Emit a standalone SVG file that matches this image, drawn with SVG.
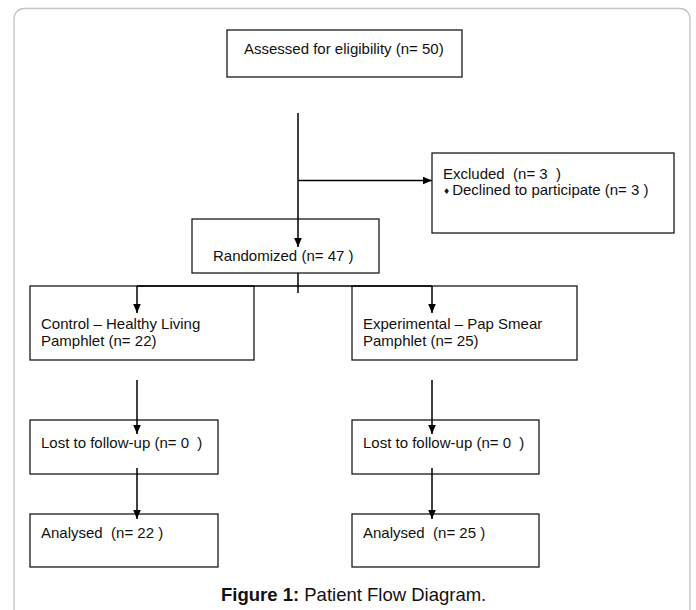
<svg xmlns="http://www.w3.org/2000/svg" width="696" height="610" viewBox="0 0 696 610">
<defs>
<style>
.box{fill:#fff;stroke:#1a1a1a;stroke-width:1.3}
.t{font-family:"Liberation Sans",Arial,sans-serif;font-size:15px;fill:#111;white-space:pre}
.ln{fill:none;stroke:#000;stroke-width:1.5}
.cap{font-family:"Liberation Sans",Arial,sans-serif;font-size:18.5px;fill:#111}
</style>
<marker id="ah" markerUnits="userSpaceOnUse" markerWidth="10" markerHeight="9" refX="9.5" refY="4.5" orient="auto">
<path d="M0,0.5 L9.5,4.5 L0,8.5 z" fill="#000"/>
</marker>
</defs>
<rect x="0" y="0" width="696" height="610" fill="#fff"/>
<rect x="14" y="8.5" width="676" height="640" rx="10" fill="#fff" stroke="#c4c4c4" stroke-width="1.3"/>

<g id="assessed">
<rect class="box" x="227" y="30" width="235" height="47"/>
<text class="t" x="244" y="54">Assessed for eligibility (n= 50)</text>
</g>

<g id="excluded">
<rect class="box" x="432" y="153" width="242" height="80"/>
<text class="t" x="443" y="179">Excluded  (n= 3  )</text>
<text class="t" x="443" y="195"><tspan font-size="8" font-family="'DejaVu Sans',sans-serif" dy="-1.5">♦</tspan><tspan dy="1.5" dx="2">Declined to participate (n= 3 )</tspan></text>
</g>

<g id="randomized">
<rect class="box" x="192" y="219" width="187" height="54"/>
<text class="t" x="213" y="261">Randomized (n= 47 )</text>
</g>

<g id="control">
<rect class="box" x="30" y="286" width="224" height="74"/>
<text class="t" x="41" y="329">Control – Healthy Living</text>
<text class="t" x="41" y="346">Pamphlet (n= 22)</text>
</g>

<g id="experimental">
<rect class="box" x="352" y="286" width="225" height="74"/>
<text class="t" x="363" y="329">Experimental – Pap Smear</text>
<text class="t" x="363" y="346">Pamphlet (n= 25)</text>
</g>

<g id="lost-control">
<rect class="box" x="30" y="420" width="188" height="54"/>
<text class="t" x="41" y="448">Lost to follow-up (n= 0  )</text>
</g>

<g id="lost-experimental">
<rect class="box" x="352" y="420" width="187" height="54"/>
<text class="t" x="363" y="448">Lost to follow-up (n= 0  )</text>
</g>

<g id="analysed-control">
<rect class="box" x="30" y="514" width="188" height="53"/>
<text class="t" x="41" y="538">Analysed  (n= 22 )</text>
</g>

<g id="analysed-experimental">
<rect class="box" x="352" y="514" width="187" height="53"/>
<text class="t" x="363" y="538">Analysed  (n= 25 )</text>
</g>

<g id="connectors">
<line class="ln" x1="298" y1="113" x2="298" y2="247" marker-end="url(#ah)"/>
<line class="ln" x1="298" y1="180.5" x2="432" y2="180.5" marker-end="url(#ah)"/>
<line class="ln" x1="298" y1="273" x2="298" y2="293"/>
<line class="ln" x1="137" y1="286" x2="432" y2="286"/>
<line class="ln" x1="137" y1="286" x2="137" y2="313" marker-end="url(#ah)"/>
<line class="ln" x1="432" y1="286" x2="432" y2="313" marker-end="url(#ah)"/>
<line class="ln" x1="137" y1="380" x2="137" y2="434" marker-end="url(#ah)"/>
<line class="ln" x1="432" y1="380" x2="432" y2="434" marker-end="url(#ah)"/>
<line class="ln" x1="137" y1="468" x2="137" y2="519" marker-end="url(#ah)"/>
<line class="ln" x1="432" y1="468" x2="432" y2="519" marker-end="url(#ah)"/>
</g>

<text class="cap" x="221" y="601"><tspan font-weight="bold">Figure 1:</tspan> Patient Flow Diagram.</text>
</svg>
